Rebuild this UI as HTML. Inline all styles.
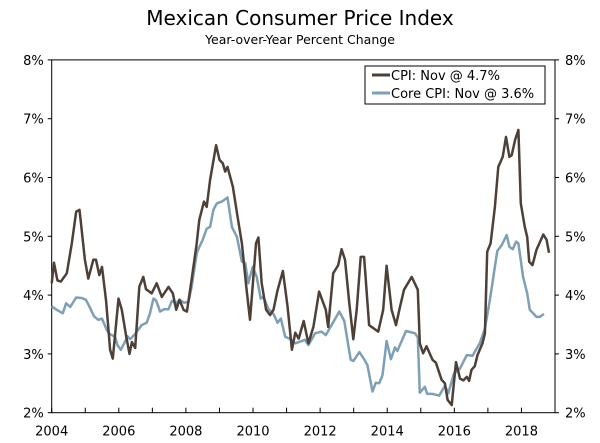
<!DOCTYPE html>
<html><head><meta charset="utf-8"><style>
body{margin:0;background:#fff;}
svg{display:block;font-family:"DejaVu Sans","Liberation Sans",sans-serif;}
</style></head><body>
<svg id="chart" width="600" height="443">
<text x="300" y="25" text-anchor="middle" font-size="20" fill="#000">Mexican Consumer Price Index</text>
<text x="300" y="44" text-anchor="middle" font-size="12.5" fill="#000">Year-over-Year Percent Change</text>
<g id="axes"></g>
<g id="series"></g>
<g>
<rect x="365" y="66" width="180" height="38" fill="#fff" stroke="#000" stroke-width="1"/>
<line x1="372" y1="75" x2="390" y2="75" stroke="#4d4038" stroke-width="3"/>
<text x="391" y="80" font-size="13">CPI: Nov @ 4.7%</text>
<line x1="372" y1="93" x2="390" y2="93" stroke="#7f9fb5" stroke-width="3"/>
<text x="391" y="98" font-size="13">Core CPI: Nov @ 3.6%</text>
</g>
</svg>
<script>
const yTicks=[2,3,4,5,6,7,8];
const yTickLabels=["2%","3%","4%","5%","6%","7%","8%"];
const xLabelYears=[2004,2006,2008,2010,2012,2014,2016,2018];
const cpiDates=[2004.00,2004.07,2004.17,2004.27,2004.45,2004.60,2004.73,2004.83,2004.99,2005.09,2005.24,2005.32,2005.42,2005.50,2005.62,2005.74,2005.82,2005.99,2006.09,2006.22,2006.32,2006.39,2006.49,2006.61,2006.73,2006.81,2006.98,2007.13,2007.28,2007.48,2007.61,2007.71,2007.81,2007.93,2008.03,2008.17,2008.32,2008.40,2008.54,2008.62,2008.72,2008.90,2009.00,2009.10,2009.17,2009.24,2009.40,2009.54,2009.67,2009.80,2009.91,2010.01,2010.09,2010.16,2010.26,2010.39,2010.51,2010.61,2010.73,2010.89,2011.03,2011.16,2011.26,2011.36,2011.51,2011.65,2011.80,2011.97,2012.17,2012.24,2012.39,2012.54,2012.64,2012.74,2012.87,2012.99,2013.09,2013.21,2013.31,2013.46,2013.73,2013.88,2013.98,2014.13,2014.26,2014.38,2014.50,2014.73,2014.91,2014.97,2015.07,2015.17,2015.35,2015.45,2015.62,2015.72,2015.80,2015.92,2016.05,2016.17,2016.27,2016.37,2016.44,2016.51,2016.61,2016.69,2016.84,2016.91,2016.98,2017.08,2017.21,2017.31,2017.44,2017.54,2017.64,2017.71,2017.81,2017.91,2017.98,2018.10,2018.17,2018.23,2018.33,2018.45,2018.65,2018.75,2018.82];
const cpiValues=[4.2,4.55,4.25,4.23,4.37,4.88,5.42,5.45,4.6,4.28,4.6,4.6,4.34,4.48,3.9,3.07,2.92,3.94,3.75,3.3,3.0,3.2,3.1,4.14,4.31,4.1,4.03,4.2,3.97,4.14,4.03,3.75,3.92,3.75,3.72,4.26,4.88,5.28,5.59,5.5,5.96,6.55,6.3,6.24,6.1,6.18,5.84,5.33,4.88,4.14,3.58,4.31,4.88,4.98,4.2,3.75,3.66,3.75,4.08,4.41,3.8,3.07,3.36,3.26,3.56,3.18,3.46,4.06,3.75,3.46,4.37,4.51,4.78,4.6,3.86,3.25,3.75,4.65,4.65,3.49,3.38,3.75,4.5,3.75,3.49,3.8,4.09,4.31,4.09,3.18,3.01,3.13,2.9,2.85,2.56,2.5,2.22,2.13,2.86,2.58,2.55,2.61,2.54,2.73,2.79,2.98,3.18,3.35,4.74,4.88,5.5,6.18,6.35,6.69,6.35,6.38,6.64,6.81,5.56,5.16,4.99,4.57,4.51,4.77,5.03,4.94,4.72];
const coreDates=[2004.00,2004.15,2004.33,2004.43,2004.55,2004.73,2004.89,2005.02,2005.12,2005.26,2005.39,2005.50,2005.64,2005.72,2005.89,2005.96,2006.06,2006.16,2006.26,2006.34,2006.49,2006.68,2006.83,2006.93,2007.03,2007.11,2007.23,2007.35,2007.48,2007.58,2007.71,2007.81,2007.95,2008.08,2008.17,2008.32,2008.40,2008.50,2008.62,2008.72,2008.82,2008.92,2009.07,2009.24,2009.37,2009.52,2009.67,2009.77,2009.86,2009.99,2010.11,2010.23,2010.31,2010.46,2010.61,2010.73,2010.83,2010.96,2011.09,2011.26,2011.41,2011.55,2011.65,2011.85,2012.04,2012.17,2012.34,2012.57,2012.72,2012.91,2012.99,2013.17,2013.31,2013.41,2013.56,2013.66,2013.76,2013.86,2013.98,2014.11,2014.23,2014.30,2014.56,2014.83,2014.91,2014.97,2015.12,2015.19,2015.35,2015.55,2015.72,2015.82,2015.99,2016.17,2016.37,2016.54,2016.76,2016.91,2017.06,2017.18,2017.28,2017.41,2017.56,2017.64,2017.74,2017.84,2017.91,2018.05,2018.17,2018.25,2018.45,2018.55,2018.67];
const coreValues=[3.81,3.75,3.69,3.86,3.8,3.96,3.95,3.92,3.81,3.64,3.58,3.6,3.41,3.34,3.29,3.15,3.07,3.18,3.3,3.25,3.34,3.49,3.53,3.69,3.94,3.91,3.72,3.76,3.76,3.9,3.86,3.92,3.87,3.89,4.14,4.71,4.82,4.94,5.13,5.16,5.45,5.56,5.59,5.66,5.16,4.99,4.57,4.54,4.2,4.48,4.31,3.94,3.97,3.76,3.68,3.53,3.6,3.29,3.26,3.18,3.21,3.24,3.15,3.35,3.38,3.32,3.49,3.72,3.56,2.9,2.88,3.03,2.91,2.81,2.36,2.51,2.5,2.64,3.22,2.91,3.11,3.05,3.39,3.35,3.28,2.34,2.44,2.32,2.32,2.29,2.46,2.33,2.67,2.75,2.98,2.97,3.18,3.43,3.92,4.37,4.75,4.85,5.02,4.82,4.78,4.91,4.88,4.31,4.03,3.75,3.63,3.63,3.68];

const X0=51.7,X1=555,Y0=412.7,Y1=59.9,T0=2004,T1=2019,V0=2,V1=8;
const xs=t=>X0+(t-T0)/(T1-T0)*(X1-X0);
const ys=v=>Y0-(v-V0)/(V1-V0)*(Y0-Y1);
const NS="http://www.w3.org/2000/svg";
function mk(tag,attrs,parent){const e=document.createElementNS(NS,tag);for(const k in attrs)e.setAttribute(k,attrs[k]);parent.appendChild(e);return e;}
const axes=document.getElementById('axes');
const frame=mk('rect',{x:X0,y:Y1,width:X1-X0,height:Y0-Y1,fill:'none',stroke:'#000','stroke-width':1},axes);


yTicks.forEach((v,i)=>{
  const y=ys(v);
  const tl=mk('line',{x1:X0-4,y1:y,x2:X0,y2:y,stroke:'#000'},axes);
  
  
  const tr=mk('line',{x1:X1,y1:y,x2:X1+4,y2:y,stroke:'#000'},axes);
  
  
  const a=mk('text',{x:X0-8,y:y+5,'text-anchor':'end','font-size':13},axes);
  a.textContent=yTickLabels[i];
  
  
  const b=mk('text',{x:X1+10,y:y+5,'text-anchor':'start','font-size':13},axes);
  b.textContent=yTickLabels[i];
  
  
});
for(let yr=T0;yr<=T1;yr++){
  const x=xs(yr);
  const t=mk('line',{x1:x,y1:Y0,x2:x,y2:Y0-5,stroke:'#000'},axes);
  
  
}
xLabelYears.forEach(yr=>{
  const l=mk('text',{x:xs(yr),y:Y0+23,'text-anchor':'middle','font-size':13},axes);
  l.textContent=String(yr);
  
  
});
const ser=document.getElementById('series');
function line(dates,vals,color){
  return mk('polyline',{points:dates.map((d,i)=>xs(d).toFixed(1)+','+ys(vals[i]).toFixed(1)).join(' '),fill:'none',stroke:color,'stroke-width':2.5,'stroke-linejoin':'round'},ser);
}
const core=line(coreDates,coreValues,'#7f9fb5');


const cpi=line(cpiDates,cpiValues,'#4d4038');


</script>
</body></html>
